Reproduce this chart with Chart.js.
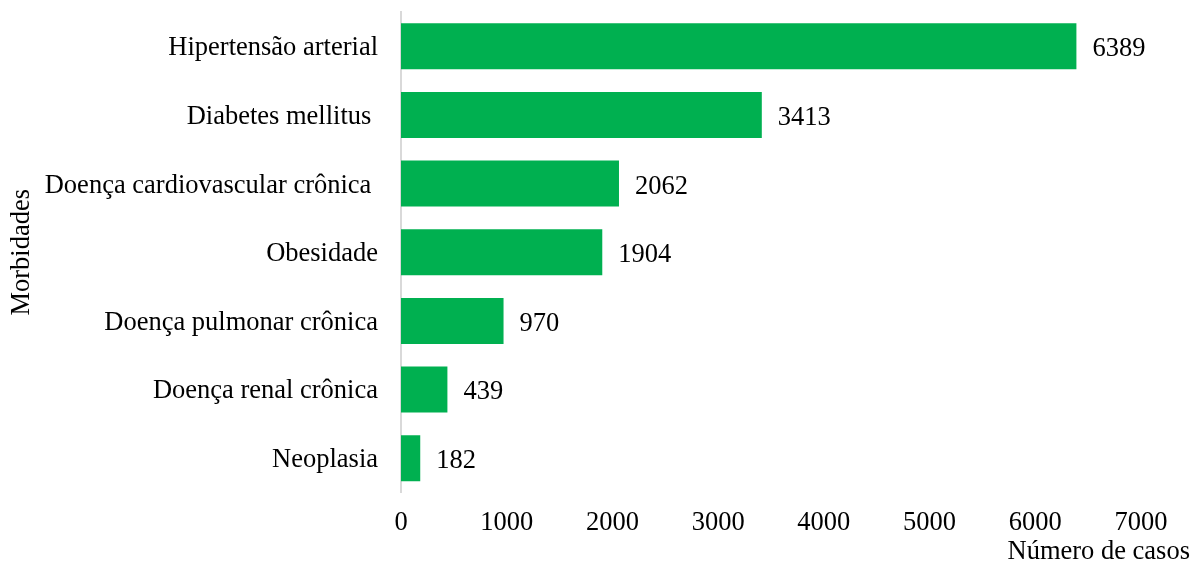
<!DOCTYPE html>
<html>
<head>
<meta charset="utf-8">
<script src="https://cdn.jsdelivr.net/npm/chart.js@4/dist/chart.umd.min.js"></script>
<style>
  html, body { margin: 0; padding: 0; background: #fff; }
  #wrap { width: 1200px; height: 565px; }
</style>
</head>
<body>
<div id="wrap"><canvas id="chart"></canvas></div>
<script>
const categories = [
  'Hipertensão arterial',
  'Diabetes mellitus ',
  'Doença cardiovascular crônica ',
  'Obesidade',
  'Doença pulmonar crônica',
  'Doença renal crônica',
  'Neoplasia'
]
const cases = [6389, 3413, 2062, 1904, 970, 439, 182]
const xTicks = [0, 1000, 2000, 3000, 4000, 5000, 6000, 7000]

const font = { family: '"Liberation Serif", "Times New Roman", serif', size: 26.5 }

// Value printed just past the end of each bar
const barValues = {
  id: 'barValues',
  afterDatasetsDraw(chart) {
    const { ctx } = chart
    const meta = chart.getDatasetMeta(0)
    ctx.save()
    ctx.font = `${font.size}px ${font.family}`
    ctx.fillStyle = '#000'
    ctx.textAlign = 'left'
    ctx.textBaseline = 'middle'
    meta.data.forEach((bar, i) => {
      ctx.fillText(String(cases[i]), bar.x + 16, bar.y + 3)
    })
    ctx.restore()
  }
}

Chart.defaults.font.family = font.family
Chart.defaults.font.size = font.size
Chart.defaults.color = '#000'

new Chart(document.getElementById('chart'), {
  type: 'bar',
  data: {
    labels: categories,
    datasets: [{
      data: cases,
      backgroundColor: '#00b050',
      categoryPercentage: 1,
      barPercentage: 0.67
    }]
  },
  plugins: [barValues],
  options: {
    indexAxis: 'y',
    responsive: true,
    maintainAspectRatio: false,
    animation: false,
    layout: { padding: { top: 12, right: 10, left: 6, bottom: 0 } },
    scales: {
      x: {
        min: 0,
        max: 7000,
        afterBuildTicks: (axis) => { axis.ticks = xTicks.map((value) => ({ value })) },
        // pin the plot edges to where the reference has them
        afterFit: (scale) => {
          scale.paddingRight = 59
          scale.paddingLeft = 0
          scale.height = 42
        },
        grid: { display: false, drawTicks: false },
        border: { display: false },
        ticks: { padding: 15, maxRotation: 0, callback: (value) => String(value) }
      },
      y: {
        afterFit: (scale) => {
          scale.paddingTop = 0
          scale.paddingBottom = 0
          scale.width = 395
        },
        grid: { display: false, drawTicks: false },
        border: { display: true, color: '#d9d9d9', width: 2 },
        ticks: { padding: 23, labelOffset: 2 },
        title: { display: true, text: 'Morbidades', padding: { top: 0, bottom: 0 } }
      }
    },
    plugins: {
      legend: { display: false },
      tooltip: { enabled: false },
      title: {
        display: true,
        text: 'Número de casos',
        position: 'bottom',
        align: 'end',
        padding: { top: 4, bottom: 0 },
        font: { weight: 'normal', lineHeight: 1.0 }
      }
    }
  }
})
</script>
</body>
</html>
